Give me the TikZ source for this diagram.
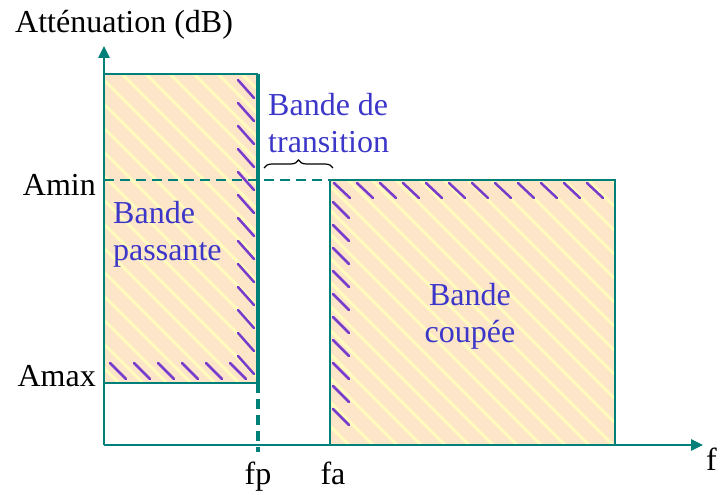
\documentclass[tikz,border=0pt]{standalone}
\usepackage{fontspec}
\setmainfont{Liberation Serif}
\usetikzlibrary{
    arrows.meta,
    decorations.pathreplacing
}
\definecolor{axisteal}{RGB}{0,128,120}
\definecolor{bandfill}{RGB}{253,229,200}
\definecolor{bandstripe}{RGB}{255,252,190}
\definecolor{hatchviolet}{RGB}{120,60,205}
\definecolor{labelblue}{RGB}{60,55,200}

\begin{document}
\begin{tikzpicture}[
    x=1pt,
    y=-1pt,
    axis/.style={
        -{Triangle[length=12pt,width=11pt]},
        line width=2.5pt,
        draw=axisteal
    },
    bandedge/.style={
        line width=2pt,
        draw=axisteal
    },
    limitdash/.style={
        bandedge,
        dash pattern=on 10pt off 6pt
    },
    hatch/.style={
        line width=2.5pt,
        draw=hatchviolet,
        line cap=round
    },
    stripe/.style={
        line width=3pt,
        draw=bandstripe
    },
    axislabel/.style={
        font=\fontsize{32}{38}\selectfont,
        text=black,
        inner sep=0pt
    },
    bandlabel/.style={
        font=\fontsize{32}{38}\selectfont,
        text=labelblue,
        inner sep=0pt
    }
]

\useasboundingbox (0,0) rectangle (718,495);

% corners of the two bands
\coordinate (origin) at (104,445);
\coordinate (yend) at (104,46);
\coordinate (xend) at (703,445);
\coordinate (pass-tl) at (104,74);
\coordinate (pass-tr) at (258,74);
\coordinate (pass-bl) at (104,383);
\coordinate (pass-br) at (258,383);
\coordinate (fp-low) at (258,452);
\coordinate (amin-l) at (104,180);
\coordinate (stop-tl) at (330,180);
\coordinate (stop-tr) at (615,180);
\coordinate (stop-bl) at (330,445);
\coordinate (stop-br) at (615,445);
\coordinate (trans-l) at (264,168);
\coordinate (trans-r) at (333,168);

% filled bands
\fill[bandfill] (pass-tl) rectangle (pass-br);
\fill[bandfill] (stop-tl) rectangle (stop-br);
\begin{scope}
    \clip (pass-tl) rectangle (pass-br) (stop-tl) rectangle (stop-br);
    \foreach \s in {-320,-296,...,640}
        \draw[stripe] (\s,40) -- ++(440,440);
\end{scope}

% hatching along the limits
\foreach \y in {80,103,...,360}
    \draw[hatch] (238,\y) -- ++(16,18);
\foreach \x in {110,134,...,230}
    \draw[hatch] (\x,363) -- ++(16,16);
\foreach \x in {334,357,...,600}
    \draw[hatch] (\x,183) -- ++(16,15);
\foreach \y in {202,225,...,425}
    \draw[hatch] (333,\y) -- ++(16,16);

% band outlines
\draw[bandedge] (pass-tl) -- (pass-tr);
\draw[bandedge, line width=4pt] (pass-tr) -- (pass-br);
\draw[bandedge] (pass-bl) -- (pass-br);
\draw[limitdash, line width=4pt] (pass-br) -- (fp-low);
\draw[limitdash] (amin-l) -- (stop-tl);
\draw[bandedge] (stop-bl) -- (stop-tl) -- (stop-tr) -- (stop-br);

% axes
\draw[axis] (origin) -- (yend);
\draw[axis] (origin) -- (xend);

% labels
\node[axislabel, anchor=base west] (title) at (15,33) {Atténuation (dB)};
\node[axislabel, anchor=base east] (amin) at (96,195) {Amin};
\node[axislabel, anchor=base east] (amax) at (96,386) {Amax};
\node[axislabel, anchor=base] (fp) at (258,484) {fp};
\node[axislabel, anchor=base] (fa) at (333,484) {fa};
\node[axislabel, anchor=base east] (freq) at (717,470) {f};

\node[bandlabel, anchor=base west] (passtop) at (113,223) {Bande};
\node[bandlabel, anchor=base west] (passbot) at (113,260) {passante};
\node[bandlabel, anchor=base west] (transtop) at (268,115) {Bande de};
\node[bandlabel, anchor=base west] (transbot) at (268,152) {transition};
\node[bandlabel, anchor=base] (stoptop) at (470,305) {Bande};
\node[bandlabel, anchor=base] (stopbot) at (470,342) {coupée};

\draw[decorate, decoration={brace, amplitude=8pt}, line width=1.2pt]
    (trans-l) -- (trans-r);

\end{tikzpicture}
\end{document}
